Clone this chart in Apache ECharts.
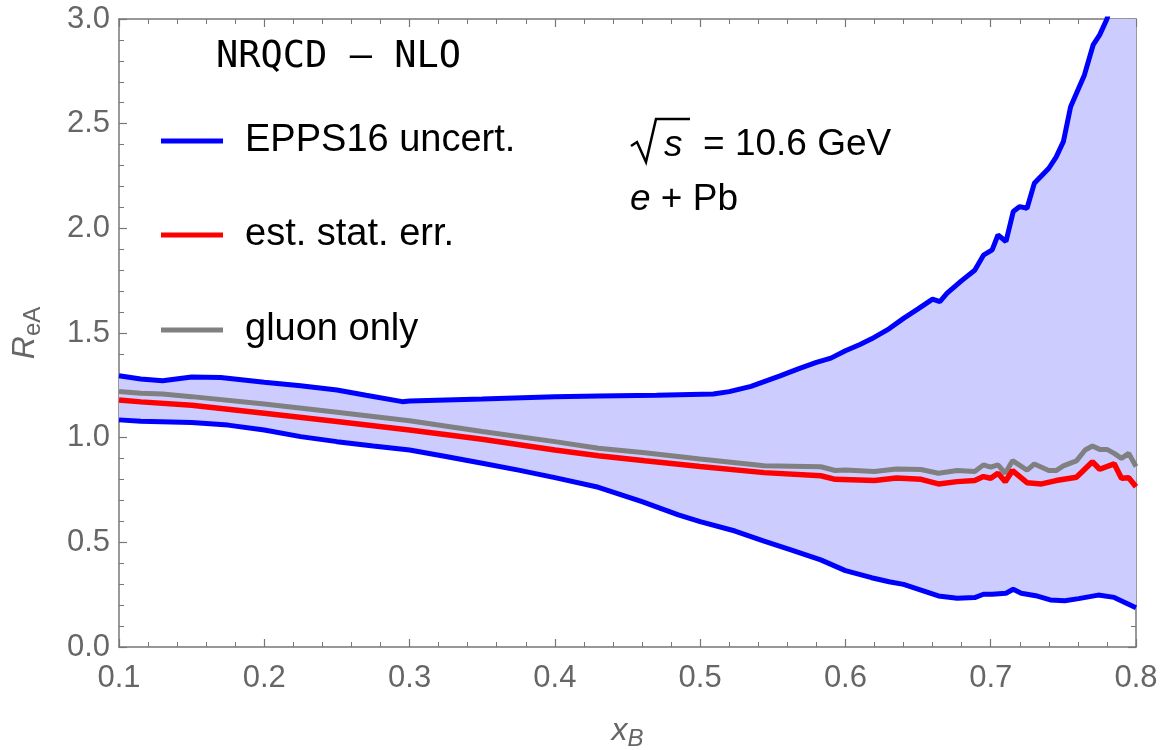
<!DOCTYPE html>
<html>
<head>
<meta charset="utf-8">
<script src="https://cdn.jsdelivr.net/npm/echarts@6/dist/echarts.min.js"></script>
<style>
  html, body { margin: 0; padding: 0; background: #fff; }
  #chart { width: 1162px; height: 750px; }
</style>
</head>
<body>
<div id="chart"></div>
<script>
// EPPS16 band, upper edge
var upperX = [0.1, 0.115, 0.13, 0.15, 0.17, 0.2, 0.225, 0.25, 0.27, 0.295, 0.3, 0.35, 0.4, 0.43, 0.47, 0.509, 0.52, 0.535, 0.545, 0.555, 0.568, 0.58, 0.59, 0.6, 0.61, 0.618, 0.63, 0.64, 0.65, 0.66, 0.665, 0.67, 0.675, 0.68, 0.689, 0.695, 0.701, 0.705, 0.7105, 0.7155, 0.72, 0.725, 0.73, 0.74, 0.745, 0.75, 0.755, 0.7645, 0.7705, 0.775, 0.78, 0.79, 0.8];
var upperY = [1.296, 1.28, 1.272, 1.29, 1.287, 1.265, 1.248, 1.228, 1.203, 1.172, 1.175, 1.185, 1.196, 1.199, 1.203, 1.209, 1.22, 1.245, 1.27, 1.295, 1.33, 1.36, 1.38, 1.415, 1.445, 1.472, 1.52, 1.57, 1.615, 1.662, 1.65, 1.69, 1.72, 1.75, 1.8, 1.872, 1.897, 1.968, 1.937, 2.08, 2.104, 2.096, 2.215, 2.287, 2.34, 2.414, 2.581, 2.733, 2.876, 2.924, 3.0, 3.25, 3.5];
// EPPS16 band, lower edge
var lowerX = [0.1, 0.115, 0.15, 0.175, 0.2, 0.225, 0.25, 0.275, 0.3, 0.325, 0.35, 0.375, 0.4, 0.43, 0.46, 0.485, 0.5, 0.524, 0.544, 0.563, 0.583, 0.6, 0.618, 0.63, 0.64, 0.652, 0.664, 0.677, 0.689, 0.695, 0.701, 0.7105, 0.7155, 0.721, 0.731, 0.741, 0.751, 0.7605, 0.774, 0.785, 0.8];
var lowerY = [1.085, 1.078, 1.073, 1.06, 1.037, 1.005, 0.981, 0.96, 0.941, 0.91, 0.878, 0.845, 0.809, 0.763, 0.694, 0.631, 0.599, 0.554, 0.506, 0.463, 0.416, 0.365, 0.331, 0.312, 0.299, 0.272, 0.244, 0.233, 0.236, 0.252, 0.252, 0.257, 0.276, 0.257, 0.245, 0.225, 0.221, 0.231, 0.248, 0.237, 0.188];
// est. stat. err. (red)
var statX = [0.1, 0.115, 0.15, 0.2, 0.25, 0.3, 0.35, 0.4, 0.43, 0.462, 0.5, 0.544, 0.583, 0.593, 0.62, 0.635, 0.652, 0.664, 0.677, 0.689, 0.695, 0.7, 0.705, 0.71, 0.715, 0.725, 0.735, 0.745, 0.759, 0.77, 0.775, 0.785, 0.79, 0.795, 0.8];
var statY = [1.18, 1.171, 1.155, 1.117, 1.077, 1.037, 0.992, 0.941, 0.914, 0.89, 0.862, 0.833, 0.818, 0.801, 0.795, 0.807, 0.801, 0.779, 0.79, 0.795, 0.814, 0.806, 0.83, 0.79, 0.843, 0.785, 0.779, 0.795, 0.811, 0.885, 0.849, 0.875, 0.806, 0.809, 0.766];
// gluon only (gray)
var gluonX = [0.1, 0.115, 0.13, 0.15, 0.2, 0.25, 0.3, 0.35, 0.4, 0.43, 0.462, 0.5, 0.544, 0.583, 0.593, 0.6, 0.62, 0.635, 0.652, 0.664, 0.677, 0.689, 0.695, 0.7, 0.705, 0.71, 0.715, 0.725, 0.73, 0.74, 0.745, 0.75, 0.759, 0.765, 0.77, 0.775, 0.78, 0.785, 0.79, 0.795, 0.8];
var gluonY = [1.22, 1.212, 1.209, 1.196, 1.161, 1.121, 1.081, 1.029, 0.981, 0.949, 0.928, 0.898, 0.866, 0.861, 0.843, 0.845, 0.838, 0.85, 0.848, 0.83, 0.843, 0.838, 0.87, 0.859, 0.87, 0.83, 0.89, 0.845, 0.874, 0.843, 0.843, 0.865, 0.889, 0.941, 0.96, 0.944, 0.944, 0.925, 0.901, 0.925, 0.862];

var xTicks = [0.1, 0.2, 0.3, 0.4, 0.5, 0.6, 0.7, 0.8];
var yTicks = [0.0, 0.5, 1.0, 1.5, 2.0, 2.5, 3.0];

var labelFont = 'Liberation Sans';
var axisGray = '#777777';
var textGray = '#666666';

function zip(xs, ys) {
    var out = [];
    for (var i = 0; i < xs.length; i++) {
        out.push([xs[i], ys[i]]);
    }
    return out;
}

function frameAxis(pos, min, max, step, showLabels) {
    return {
        type: 'value',
        position: pos,
        min: min,
        max: max,
        interval: step,
        axisLine: { show: true, onZero: false, lineStyle: { color: axisGray, width: 1.5 } },
        axisTick: { show: true, inside: true, length: 8, lineStyle: { color: axisGray, width: 1.2 } },
        minorTick: { show: true, splitNumber: 5, length: 5, lineStyle: { color: axisGray, width: 1 } },
        splitLine: { show: false },
        minorSplitLine: { show: false },
        axisLabel: {
            show: showLabels,
            color: textGray,
            fontFamily: labelFont,
            fontSize: 31,
            formatter: function (v) { return v.toFixed(1); }
        }
    };
}

var chart = echarts.init(document.getElementById('chart'));

var xBottom = frameAxis('bottom', xTicks[0], xTicks[xTicks.length - 1], 0.1, true);
xBottom.axisLabel.margin = 16;
xBottom.name = '{i|x}{s|B}';
xBottom.nameLocation = 'middle';
xBottom.nameGap = 64;
xBottom.nameTextStyle = {
    rich: {
        i: { fontFamily: labelFont, fontStyle: 'italic', fontSize: 32, color: textGray },
        s: { fontFamily: labelFont, fontStyle: 'italic', fontSize: 24, color: textGray, padding: [16, 0, 0, 0] }
    }
};
var xTop = frameAxis('top', xTicks[0], xTicks[xTicks.length - 1], 0.1, false);

var yLeft = frameAxis('left', yTicks[0], yTicks[yTicks.length - 1], 0.5, true);
yLeft.axisLabel.margin = 9;
yLeft.name = '{i|R}{s|eA}';
yLeft.nameLocation = 'middle';
yLeft.nameRotate = 90;
yLeft.nameGap = 74;
yLeft.nameTextStyle = {
    rich: {
        i: { fontFamily: labelFont, fontStyle: 'italic', fontSize: 32, color: textGray },
        s: { fontFamily: labelFont, fontSize: 24, color: textGray, padding: [16, 0, 0, 0] }
    }
};
var yRight = frameAxis('right', yTicks[0], yTicks[yTicks.length - 1], 0.5, false);

function legendFor(name, centerY) {
    return {
        data: [name],
        left: 161,
        top: centerY - 21,
        padding: 0,
        icon: 'rect',
        itemWidth: 62,
        itemHeight: 5,
        selectedMode: false,
        textStyle: {
            fontFamily: labelFont,
            fontSize: 38,
            color: '#000',
            lineHeight: 42,
            padding: [0, 0, 0, 17]
        }
    };
}

var option = {
    backgroundColor: '#fff',
    animation: false,
    grid: { left: 119, right: 26, top: 19, bottom: 103, containLabel: false, outerBoundsMode: 'none' },
    xAxis: [xBottom, xTop],
    yAxis: [yLeft, yRight],
    legend: [
        legendFor('EPPS16 uncert.', 141),
        legendFor('est. stat. err.', 235),
        legendFor('gluon only', 330)
    ],
    graphic: [
        {
            type: 'text', x: 216, y: 57,
            style: { text: 'NRQCD – NLO', font: '37px "DejaVu Sans Mono"', fill: '#000', verticalAlign: 'middle' }
        },
        {
            type: 'polyline',
            shape: { points: [[631, 146], [637, 142], [646, 162], [656, 119], [690, 119]] },
            style: { stroke: '#000', lineWidth: 2.5, fill: null }
        },
        {
            type: 'text', x: 664, y: 146,
            style: { text: 's', font: 'italic 37px "Liberation Sans"', fill: '#000', verticalAlign: 'middle' }
        },
        {
            type: 'text', x: 703, y: 145,
            style: { text: '= 10.6 GeV', font: '37px "Liberation Sans"', fill: '#000', verticalAlign: 'middle' }
        },
        {
            type: 'text', x: 630, y: 200,
            style: {
                text: '{i|e} + Pb',
                font: '37px "Liberation Sans"',
                fill: '#000',
                verticalAlign: 'middle',
                rich: { i: { fontStyle: 'italic', fontSize: 37, fontFamily: labelFont, fill: '#000' } }
            }
        }
    ],
    series: [
        {
            type: 'custom',
            name: 'band',
            clip: true,
            silent: true,
            z: 1,
            data: [[0.1, 1]],
            renderItem: function (params, api) {
                var pts = [];
                for (var i = 0; i < upperX.length; i++) {
                    pts.push(api.coord([upperX[i], upperY[i]]));
                }
                for (var j = lowerX.length - 1; j >= 0; j--) {
                    pts.push(api.coord([lowerX[j], lowerY[j]]));
                }
                return { type: 'polygon', shape: { points: pts }, style: { fill: '#ccccff' } };
            }
        },
        {
            type: 'line', name: 'EPPS16 uncert.', data: zip(upperX, upperY),
            color: '#0000ff', showSymbol: false, symbol: 'none', z: 3,
            lineStyle: { color: '#0000ff', width: 5 }
        },
        {
            type: 'line', name: 'EPPS16 uncert.', data: zip(lowerX, lowerY),
            color: '#0000ff', showSymbol: false, symbol: 'none', z: 3,
            lineStyle: { color: '#0000ff', width: 5 }
        },
        {
            type: 'line', name: 'gluon only', data: zip(gluonX, gluonY),
            color: '#808080', showSymbol: false, symbol: 'none', z: 4,
            lineStyle: { color: '#808080', width: 5 }
        },
        {
            type: 'line', name: 'est. stat. err.', data: zip(statX, statY),
            color: '#ff0000', showSymbol: false, symbol: 'none', z: 5,
            lineStyle: { color: '#ff0000', width: 5.5 }
        }
    ]
};

chart.setOption(option);
</script>
</body>
</html>
